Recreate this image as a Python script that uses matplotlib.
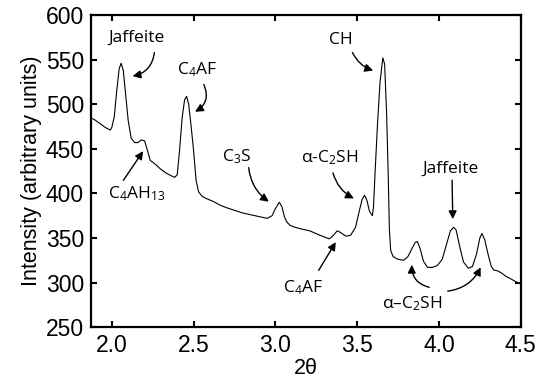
import numpy as np
import matplotlib.pyplot as plt

# XRD pattern (2theta, intensity)
two_theta = [1.87, 1.90, 1.93, 1.96, 1.99, 2.00, 2.015, 2.03, 2.045, 2.057, 2.07, 2.085,
             2.10, 2.118, 2.14, 2.16, 2.18, 2.20, 2.215, 2.235, 2.25, 2.27, 2.30, 2.33,
             2.36, 2.385, 2.40, 2.415, 2.43, 2.445, 2.457, 2.47, 2.485, 2.50, 2.515, 2.53,
             2.55, 2.58, 2.62, 2.66, 2.70, 2.75, 2.80, 2.85, 2.90, 2.95, 2.98, 3.00,
             3.024, 3.04, 3.055, 3.07, 3.09, 3.12, 3.16, 3.21, 3.26, 3.30, 3.33, 3.355,
             3.378, 3.40, 3.43, 3.46, 3.49, 3.51, 3.53, 3.545, 3.56, 3.575, 3.593, 3.60,
             3.61, 3.625, 3.64, 3.657, 3.668, 3.68, 3.69, 3.697, 3.705, 3.72, 3.75, 3.785,
             3.81, 3.835, 3.855, 3.868, 3.885, 3.905, 3.93, 3.96, 3.99, 4.02, 4.045, 4.07,
             4.09, 4.105, 4.125, 4.15, 4.18, 4.205, 4.23, 4.25, 4.263, 4.28, 4.30, 4.32,
             4.336, 4.36, 4.38, 4.41, 4.45, 4.48, 4.50]
intensity = [485, 482, 478, 474, 471, 474, 486, 515, 540, 546, 538, 510,
             482, 462, 457, 457, 460, 459, 450, 437, 435, 432, 427, 423,
             420, 418, 421, 450, 485, 505, 509, 500, 475, 448, 415, 402,
             397, 394, 391, 387, 384, 381, 378, 376, 374, 372, 375, 383,
             390, 385, 374, 368, 364, 362, 360, 358, 354, 351, 349, 353,
             358, 356, 352, 353, 362, 378, 393, 398, 392, 380, 375, 385,
             425, 480, 525, 552, 545, 490, 420, 360, 336, 329, 326, 325,
             329, 338, 345, 346, 338, 324, 317, 317, 319, 326, 342, 358,
             362, 359, 342, 323, 316, 318, 332, 350, 355, 348, 332, 318,
             314, 313, 311, 307, 303, 300, 299]

x_ticks = [2.0, 2.5, 3.0, 3.5, 4.0, 4.5]
y_ticks = [250, 300, 350, 400, 450, 500, 550, 600]

ann_font = ['Open Sans', 'DejaVu Sans']
plt.rcParams['font.family'] = ['Liberation Sans', 'DejaVu Sans']
plt.rcParams['mathtext.fontset'] = 'custom'
plt.rcParams['mathtext.rm'] = 'Open Sans'
plt.rcParams['mathtext.it'] = 'Open Sans'

fig = plt.figure(figsize=(5.41, 3.88), dpi=100)
ax = fig.add_axes([0.168, 0.157, 0.7945, 0.804])

ax.plot(two_theta, intensity, color='black', lw=0.8)

ax.set_xlim(1.872, 4.5)
ax.set_ylim(250, 600)
ax.set_xticks(x_ticks)
ax.set_xticklabels([f'{t:.1f}' for t in x_ticks])
ax.set_yticks(y_ticks)
ax.tick_params(direction='in', length=4, width=1.5, labelsize=16.5,
               top=True, right=True, pad=5)
for s in ax.spines.values():
    s.set_linewidth(1.6)

ax.set_xlabel('2θ', fontsize=15.5, labelpad=1)
ax.set_ylabel('Intensity (arbitrary units)', fontsize=15.5, labelpad=3)

arrow = dict(arrowstyle='-|>', color='black', lw=1.0, mutation_scale=12)

def note(txt, xy, xytext, start, rad=0.0):
    # label text plus an arrow drawn from 'start' to the peak 'xy'
    ax.text(xytext[0], xytext[1], txt, ha='center', va='center',
            fontsize=12.5, family=ann_font)
    ax.annotate('', xy=xy, xytext=start,
                arrowprops=dict(arrow, connectionstyle=f'arc3,rad={rad}'))

note('Jaffeite', (2.11, 531), (2.15, 574), (2.262, 561), rad=-0.4)
note('C$_4$AF', (2.494, 490), (2.524, 539), (2.555, 525), rad=-0.5)
note('C$_4$AH$_{13}$', (2.201, 450), (2.152, 400), (2.061, 412), rad=0.0)
note('C$_3$S', (2.974, 389), (2.762, 441), (2.835, 432), rad=0.25)
note('α-C$_2$SH', (3.495, 393), (3.335, 440), (3.348, 426), rad=0.25)
note('CH', (3.614, 537), (3.402, 572), (3.464, 561), rad=0.25)
note('C$_4$AF', (3.378, 348), (3.171, 294), (3.256, 311), rad=0.0)
note('Jaffeite', (4.085, 368), (4.073, 427), (4.08, 418), rad=0.0)
note('α–C$_2$SH', (3.835, 323), (3.838, 276), (3.957, 294), rad=-0.45)
ax.annotate('', xy=(4.262, 320), xytext=(4.037, 290),
            arrowprops=dict(arrow, connectionstyle='arc3,rad=0.3'))

fig.savefig('out.png', dpi=100)
